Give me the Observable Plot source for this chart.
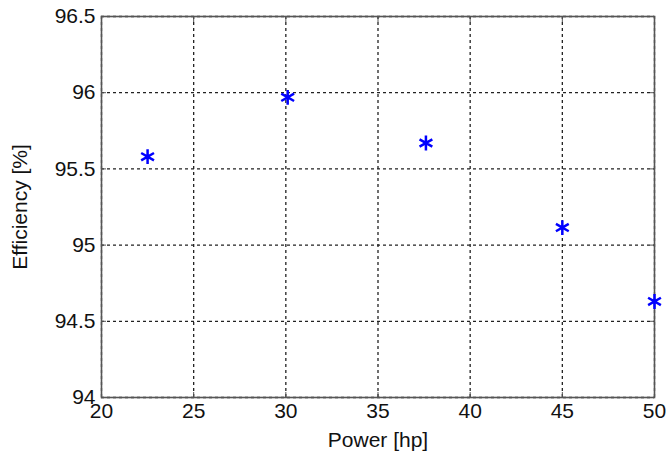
<!DOCTYPE html>
<html><head><meta charset="utf-8">
<script src="https://cdn.jsdelivr.net/npm/d3@7"></script>
<script src="https://cdn.jsdelivr.net/npm/@observablehq/plot@0.6"></script>
<style>body{margin:0;background:#fff;}</style>
</head><body><div id="chart"></div>
<script>
const power = [22.5, 30.1, 37.6, 45.0, 50.0];
const efficiency = [95.58, 95.97, 95.67, 95.115, 94.63];
const xTicks = [20, 25, 30, 35, 40, 45, 50];
const yTicks = [94, 94.5, 95, 95.5, 96, 96.5];
const xLabel = "Power [hp]";
const yLabel = "Efficiency [%]";

const data = power.map((p, i) => ({power: p, efficiency: efficiency[i]}));
const blank = () => "";
const chart = Plot.plot({
  width: 670, height: 456,
  marginLeft: 101, marginRight: 16, marginTop: 16, marginBottom: 59,
  style: {fontFamily: "'Liberation Sans', Arial, sans-serif", fontSize: "21px", color: "#111", background: "#fff"},
  x: {domain: [20, 50]},
  y: {domain: [94, 96.5]},
  marks: [
    Plot.gridX(xTicks, {stroke: "#222", strokeOpacity: 1, strokeDasharray: "3,3", strokeWidth: 1.3}),
    Plot.gridY(yTicks, {stroke: "#222", strokeOpacity: 1, strokeDasharray: "3,3", strokeWidth: 1.3}),
    Plot.axisX(xTicks, {anchor: "bottom", tickSize: 5, dy: -5, tickFormat: blank, label: null, stroke: "#555"}),
    Plot.axisX(xTicks, {anchor: "top", tickSize: 5, dy: 5, tickFormat: blank, label: null, stroke: "#555"}),
    Plot.axisY(yTicks, {anchor: "left", tickSize: 5, dx: 5, tickFormat: blank, label: null, stroke: "#555"}),
    Plot.axisY(yTicks, {anchor: "right", tickSize: 5, dx: -5, tickFormat: blank, label: null, stroke: "#555"}),
    Plot.frame({stroke: "#555", strokeWidth: 1.6}),
    Plot.axisX(xTicks, {anchor: "bottom", tickSize: 0, tickPadding: 6, fontSize: 21, label: xLabel, labelAnchor: "center", labelOffset: 49, labelArrow: "none"}),
    Plot.axisY(yTicks, {anchor: "left", tickSize: 0, tickPadding: 6, fontSize: 21, tickFormat: d => String(d), label: yLabel, labelAnchor: "center", labelOffset: 89, labelArrow: "none"}),
    Plot.dot(data, {x: "power", y: "efficiency", symbol: "asterisk", r: 7, stroke: "#0000ff", strokeWidth: 2.5})
  ]
});
document.getElementById("chart").append(chart);
</script>
</body></html>
